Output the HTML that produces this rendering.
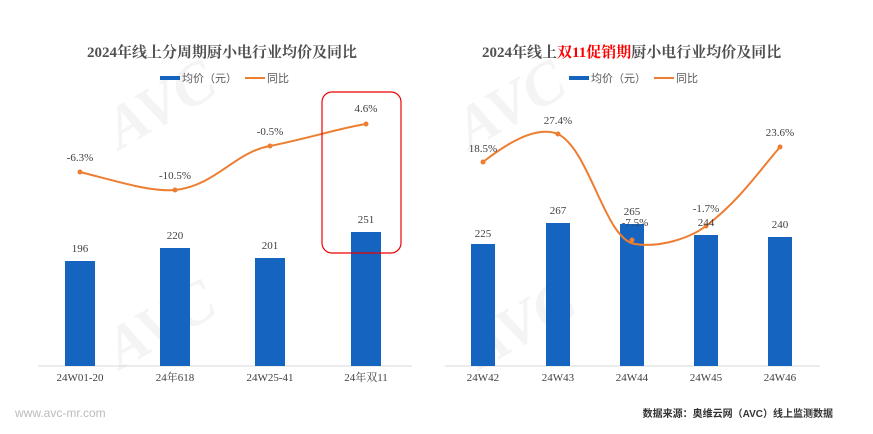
<!DOCTYPE html><html><head><meta charset="utf-8"><style>
body{margin:0;width:873px;height:429px;background:#fff;overflow:hidden}
text{font-family:"Liberation Serif","Noto Serif CJK SC",serif}
.s{font-family:"Liberation Sans","Noto Sans CJK SC",sans-serif}
</style></head><body>
<svg width="873" height="429" xmlns="http://www.w3.org/2000/svg">
<g fill="#f4f4f4" font-family="Liberation Sans,sans-serif" font-weight="bold" font-style="italic">
<text x="120" y="150" font-size="60" transform="rotate(-30 120 150)">AVC</text>
<text x="470" y="150" font-size="60" transform="rotate(-30 470 150)">AVC</text>
<text x="120" y="370" font-size="60" transform="rotate(-30 120 370)">AVC</text>
<text x="480" y="370" font-size="60" transform="rotate(-30 480 370)">AVC</text>
</g>
<text x="222" y="57" font-size="15" font-weight="bold" fill="#505050" text-anchor="middle">2024年线上分周期厨小电行业均价及同比</text>
<rect x="160" y="76" width="20" height="4" fill="#1565c0"/><text class="s" x="182" y="82" font-size="11" fill="#595959">均价（元）</text>
<line x1="245" y1="78" x2="265" y2="78" stroke="#ed7d31" stroke-width="2"/><text class="s" x="267" y="82" font-size="11" fill="#595959">同比</text>
<line x1="38" y1="366" x2="412" y2="366" stroke="#d9d9d9"/>
<g fill="#1565c0"><rect x="65" y="261" width="30" height="105"/><rect x="160" y="248" width="30" height="118"/><rect x="255" y="258" width="30" height="108"/><rect x="351" y="232" width="30" height="134"/></g>
<g font-size="11" fill="#404040" text-anchor="middle"><text x="80" y="252">196</text><text x="175" y="239">220</text><text x="270" y="249">201</text><text x="366" y="223">251</text>
<text x="80" y="161">-6.3%</text><text x="175" y="179">-10.5%</text><text x="270" y="135">-0.5%</text><text x="366" y="112">4.6%</text>
<text x="80" y="381">24W01-20</text><text x="175" y="381">24年618</text><text x="270" y="381">24W25-41</text><text x="366" y="381">24年双11</text></g>
<path d="M80,172 C120,182 150,192 175,190 C215,186 235,152 270,146 C310,138 340,128 366,124" fill="none" stroke="#ed7d31" stroke-width="2"/>
<g fill="#ed7d31"><circle cx="80" cy="172" r="2.5"/><circle cx="175" cy="190" r="2.5"/><circle cx="270" cy="146" r="2.5"/><circle cx="366" cy="124" r="2.5"/></g>
<rect x="322" y="92" width="79" height="161" rx="10" fill="none" stroke="#e00" stroke-width="1.2"/>
<text x="482" y="57" font-size="15" font-weight="bold" fill="#505050">2024年线上<tspan fill="#f00">双11促销期</tspan>厨小电行业均价及同比</text>
<rect x="569" y="76" width="20" height="4" fill="#1565c0"/><text class="s" x="591" y="82" font-size="11" fill="#595959">均价（元）</text>
<line x1="654" y1="78" x2="674" y2="78" stroke="#ed7d31" stroke-width="2"/><text class="s" x="676" y="82" font-size="11" fill="#595959">同比</text>
<line x1="445" y1="366" x2="820" y2="366" stroke="#d9d9d9"/>
<g fill="#1565c0"><rect x="471" y="244" width="24" height="122"/><rect x="546" y="223" width="24" height="143"/><rect x="620" y="224" width="24" height="142"/><rect x="694" y="235" width="24" height="131"/><rect x="768" y="237" width="24" height="129"/></g>
<path d="M483,162 C505,145 535,125 558,134 C590,150 605,240 635,244 C660,248 690,238 706,226 C740,200 760,170 780,147" fill="none" stroke="#ed7d31" stroke-width="2"/>
<g fill="#ed7d31"><circle cx="483" cy="162" r="2.5"/><circle cx="558" cy="134" r="2.5"/><circle cx="632" cy="240" r="2.5"/><circle cx="706" cy="226" r="2.5"/><circle cx="780" cy="147" r="2.5"/></g>
<g font-size="11" fill="#404040" text-anchor="middle"><text x="483" y="237">225</text><text x="558" y="214">267</text><text x="632" y="215">265</text><text x="706" y="226">244</text><text x="780" y="228">240</text>
<text x="483" y="152">18.5%</text><text x="558" y="124">27.4%</text><text x="635" y="226">-7.5%</text><text x="706" y="212">-1.7%</text><text x="780" y="136">23.6%</text>
<text x="483" y="381">24W42</text><text x="558" y="381">24W43</text><text x="632" y="381">24W44</text><text x="706" y="381">24W45</text><text x="780" y="381">24W46</text></g>
<text class="s" x="15" y="417" font-size="12" fill="#bbb">www.avc-mr.com</text>
<text class="s" x="833" y="417" font-size="10" font-weight="bold" fill="#333" text-anchor="end">数据来源：奥维云网（AVC）线上监测数据</text>
</svg></body></html>
